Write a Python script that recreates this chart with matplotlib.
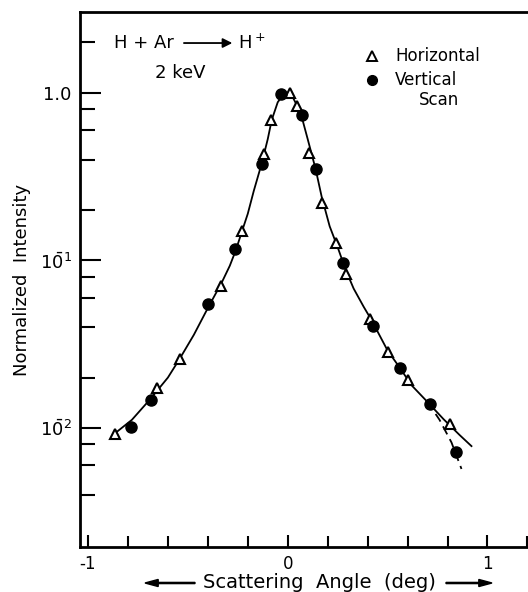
import numpy as np
import matplotlib
matplotlib.use("Agg")
import matplotlib.pyplot as plt
from matplotlib.ticker import FixedLocator, NullFormatter

plt.rcParams['font.family'] = ['DejaVu Sans']
plt.rcParams['mathtext.fontset'] = 'dejavusans'

# measured points: horizontal scan (triangles)
horiz_angle = [-0.867, -0.652, -0.541, -0.332, -0.229, -0.120, -0.082, 0.010,
               0.044, 0.107, 0.174, 0.241, 0.294, 0.411, 0.503, 0.603, 0.812]
horiz_int = [0.0092, 0.0174, 0.0259, 0.0706, 0.149, 0.429, 0.69, 1.0,
             0.84, 0.44, 0.219, 0.128, 0.083, 0.0447, 0.0283, 0.0194, 0.0105]

# measured points: vertical scan (filled circles)
vert_angle = [-0.783, -0.687, -0.400, -0.262, -0.129, -0.032, 0.069, 0.140,
              0.277, 0.428, 0.561, 0.712, 0.842]
vert_int = [0.0101, 0.0148, 0.055, 0.1167, 0.378, 0.986, 0.743, 0.35,
            0.096, 0.0408, 0.0228, 0.0140, 0.0072]

# hand-drawn fit through both scans
fit_angle = [-0.86, -0.78, -0.69, -0.60, -0.54, -0.47, -0.40, -0.33, -0.29,
             -0.26, -0.23, -0.20, -0.17, -0.13, -0.10, -0.08, -0.05, -0.02,
             0.00, 0.02, 0.04, 0.07, 0.10, 0.14, 0.17, 0.21, 0.25, 0.29,
             0.33, 0.38, 0.42, 0.50, 0.56, 0.62, 0.70, 0.78, 0.86, 0.92]
fit_int = [0.0094, 0.0112, 0.0148, 0.020, 0.026, 0.036, 0.052, 0.074, 0.093,
           0.115, 0.148, 0.19, 0.26, 0.38, 0.53, 0.69, 0.88, 0.985,
           1.0, 0.97, 0.87, 0.72, 0.53, 0.35, 0.24, 0.16, 0.12, 0.088,
           0.068, 0.053, 0.044, 0.029, 0.023, 0.018, 0.0143, 0.0113, 0.0091, 0.0078]

# steeper tail of the vertical scan
tail_angle = [0.70, 0.76, 0.82, 0.87]
tail_int = [0.0143, 0.0112, 0.0082, 0.0057]

fig = plt.figure(figsize=(5.28, 5.92), dpi=100)
ax = fig.add_axes([80 / 528, 1 - 547 / 592, 1 - 80 / 528, 535 / 592])

ax.set_yscale('log')
ax.set_xlim(-1.04, 1.203)
ax.set_ylim(0.00195, 3.04)

ax.plot(fit_angle, fit_int, color='black', lw=1.3, zorder=2)
ax.plot(tail_angle, tail_int, color='black', lw=1.3, dashes=(5, 3), zorder=2)
ax.plot(horiz_angle, horiz_int, linestyle='none', marker='^', ms=7.5,
        mfc='white', mec='black', mew=1.5, zorder=3)
ax.plot(vert_angle, vert_int, linestyle='none', marker='o', ms=8,
        mfc='black', mec='black', zorder=3)

# spines and ticks
ax.spines['right'].set_visible(False)
for s in ['left', 'top', 'bottom']:
    ax.spines[s].set_linewidth(2)

ax.xaxis.set_major_locator(FixedLocator([-1, 0, 1]))
ax.xaxis.set_minor_locator(FixedLocator([-0.8, -0.6, -0.4, -0.2, 0.2, 0.4, 0.6, 0.8, 1.2]))
ax.set_xticklabels(['-1', '0', '1'])
ax.tick_params(axis='x', which='both', direction='in', top=False, width=1.5)
ax.tick_params(axis='x', which='major', length=9, pad=6, labelsize=12)
ax.tick_params(axis='x', which='minor', length=8)

minor_y = []
for dec in [0.01, 0.1, 1.0]:
    minor_y += [0.2 * dec, 0.4 * dec, 0.6 * dec, 0.8 * dec]
minor_y = [t for t in minor_y if t > 0.003] + [2.0]
ax.yaxis.set_major_locator(FixedLocator([0.01, 0.1, 1.0]))
ax.yaxis.set_minor_locator(FixedLocator(minor_y))
ax.yaxis.set_minor_formatter(NullFormatter())
ax.set_yticklabels([r'$1\bar{0}^{2}$', r'$1\bar{0}^{1}$', '1.0'])
ax.tick_params(axis='y', which='both', direction='in', right=False, width=1.5)
ax.tick_params(axis='y', which='major', length=15, pad=6, labelsize=13)
ax.tick_params(axis='y', which='minor', length=11)

ax.set_ylabel('Normalized  Intensity', fontsize=13, labelpad=6)

# x label with arrows on either side
fig.text(0.605, 1 - 583 / 592, 'Scattering  Angle  (deg)', ha='center',
         va='center', fontsize=14)
fig.patches.append(matplotlib.patches.FancyArrow(
    195 / 528, 1 - 583 / 592, -50 / 528, 0, width=0.002, head_width=0.012,
    head_length=0.025, length_includes_head=True, color='black',
    transform=fig.transFigure))
fig.patches.append(matplotlib.patches.FancyArrow(
    446 / 528, 1 - 583 / 592, 46 / 528, 0, width=0.002, head_width=0.012,
    head_length=0.025, length_includes_head=True, color='black',
    transform=fig.transFigure))

# reaction label
ax.text(0.076, 0.942, 'H + Ar', transform=ax.transAxes, fontsize=13,
        va='center', ha='left')
ax.annotate('', xy=(0.34, 0.942), xytext=(0.232, 0.942),
            xycoords='axes fraction',
            arrowprops=dict(arrowstyle='-|>', color='black', lw=1.3,
                            mutation_scale=14, shrinkA=0, shrinkB=0))
ax.text(0.352, 0.942, r'H$^+$', transform=ax.transAxes, fontsize=13,
        va='center', ha='left')
ax.text(0.223, 0.886, '2 keV', transform=ax.transAxes, fontsize=13,
        va='center', ha='center')

# legend
ax.plot([0.652], [0.918], transform=ax.transAxes, marker='^', ms=6.5,
        mfc='white', mec='black', mew=1.4, linestyle='none', clip_on=False)
ax.text(0.703, 0.918, 'Horizontal', transform=ax.transAxes, fontsize=12,
        va='center', ha='left')
ax.plot([0.652], [0.872], transform=ax.transAxes, marker='o', ms=7,
        mfc='black', mec='black', linestyle='none', clip_on=False)
ax.text(0.703, 0.872, 'Vertical', transform=ax.transAxes, fontsize=12,
        va='center', ha='left')
ax.text(0.757, 0.835, 'Scan', transform=ax.transAxes, fontsize=12,
        va='center', ha='left')

fig.savefig('out.png', dpi=100)
